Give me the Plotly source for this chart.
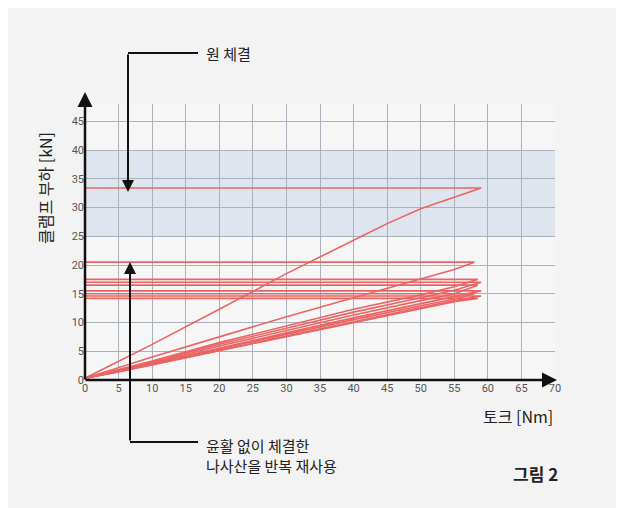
import plotly.graph_objects as go

# loading curves: torque [Nm] vs clamp load [kN]; each ends by returning flat to x=0
cycle_x = [
    [0, 5, 10, 20, 30, 40, 45, 50, 55, 57.5, 59, 0],
    [0, 5, 10, 20, 30, 40, 50, 55, 58, 0],
    [0, 5, 10, 20, 30, 40, 50, 55, 58.5, 0],
    [0, 5, 10, 20, 30, 40, 50, 55, 59, 0],
    [0, 5, 10, 20, 30, 40, 50, 55, 58.5, 0],
    [0, 5, 10, 20, 30, 40, 50, 55, 59, 0],
    [0, 5, 10, 20, 30, 40, 50, 55, 58, 0],
    [0, 5, 10, 20, 30, 40, 50, 55, 59, 0],
    [0, 5, 10, 20, 30, 40, 50, 55, 58.5, 0],
]
cycle_y = [
    [0.3, 3.2, 6.2, 12.3, 18.5, 24.3, 27.2, 29.8, 31.8, 32.9, 33.4, 33.4],
    [0.3, 2.2, 4.0, 7.5, 11.0, 14.3, 17.5, 19.2, 20.5, 20.5],
    [0.3, 1.8, 3.3, 6.5, 9.4, 12.3, 14.8, 16.2, 17.5, 17.5],
    [0.3, 1.7, 3.2, 6.2, 9.0, 11.8, 14.3, 15.6, 17.0, 17.0],
    [0.3, 1.6, 3.0, 5.9, 8.6, 11.3, 13.8, 15.0, 16.5, 16.5],
    [0.3, 1.5, 2.9, 5.6, 8.2, 10.8, 13.3, 14.5, 15.5, 15.5],
    [0.3, 1.5, 2.8, 5.4, 8.0, 10.5, 12.9, 14.1, 15.0, 15.0],
    [0.3, 1.4, 2.7, 5.2, 7.7, 10.2, 12.6, 13.8, 14.6, 14.6],
    [0.3, 1.4, 2.6, 5.1, 7.5, 10.0, 12.4, 13.6, 14.2, 14.2],
]
band = [25, 40]
x_ticks = list(range(0, 75, 5))
y_ticks = list(range(0, 50, 5))

W, H = 624, 508
L, R, T, B = 77, 547, 96, 372


def px(x):
    return (x - L) / (R - L)


def py(y):
    return (B - y) / (B - T)


def arrow(fig, x0, y0, x1, y1, width):
    # tail (x0, y0) -> head (x1, y1), in page pixels
    fig.add_annotation(x=px(x1), y=py(y1), xref='paper', yref='paper',
                       axref='pixel', ayref='pixel', ax=x0 - x1, ay=y0 - y1,
                       text='', showarrow=True, arrowhead=2, arrowwidth=width,
                       arrowcolor='#111', arrowsize=1.2)


fig = go.Figure()
for xs, ys in zip(cycle_x, cycle_y):
    fig.add_trace(go.Scatter(x=xs, y=ys, mode='lines', showlegend=False,
                             line=dict(color='#ea6464', width=1.6)))

fig.add_hrect(y0=band[0], y1=band[1], fillcolor='#dbe3ee', line_width=0, layer='below', opacity=0.9)

font = dict(family='Noto Sans CJK KR', color='#222')
fig.update_layout(
    width=W, height=H,
    margin=dict(l=L, r=W - R, t=T, b=H - B),
    paper_bgcolor='#f3f3f3', plot_bgcolor='#f6f6f6',
    xaxis=dict(range=[0, 70], tickvals=x_ticks, showgrid=True, gridcolor='#aab1bb',
               zeroline=False, showline=False, ticks='',
               tickfont=dict(family='Roboto', size=11, color='#555')),
    yaxis=dict(range=[0, 48], tickvals=y_ticks, showgrid=True, gridcolor='#aab1bb',
               zeroline=False, showline=False, ticks='',
               tickfont=dict(family='Roboto', size=11, color='#555')),
)

# axes with arrowheads
arrow(fig, 76, 372, 549, 372, 2.5)
arrow(fig, 77, 373, 77, 84, 2.5)

# callout arrows
line = dict(color='#111', width=2)
fig.add_shape(type='line', xref='paper', yref='paper', x0=px(190), y0=py(45), x1=px(120), y1=py(45), line=line)
arrow(fig, 120, 45, 120, 184, 2)
fig.add_shape(type='line', xref='paper', yref='paper', x0=px(190), y0=py(434), x1=px(122), y1=py(434), line=line)
arrow(fig, 122, 434, 122, 254, 2)

texts = [
    ('원 체결', 196, 45, 'left', 15, 0),
    ('윤활 없이 체결한<br>나사산을 반복 재사용', 196, 448, 'left', 15, 0),
    ('토크 [Nm]', 510, 408, 'center', 16, 0),
    ('<b>그림 2</b>', 527, 465, 'center', 17, 0),
    ('클램프 부하 [kN]', 37, 180, 'center', 16, -90),
]
for t, x, y, anchor, size, ang in texts:
    fig.add_annotation(x=px(x), y=py(y), xref='paper', yref='paper', text=t,
                       showarrow=False, xanchor=anchor, yanchor='middle', textangle=ang,
                       align='left', font=dict(font, size=size))

fig.write_html('out.html')
